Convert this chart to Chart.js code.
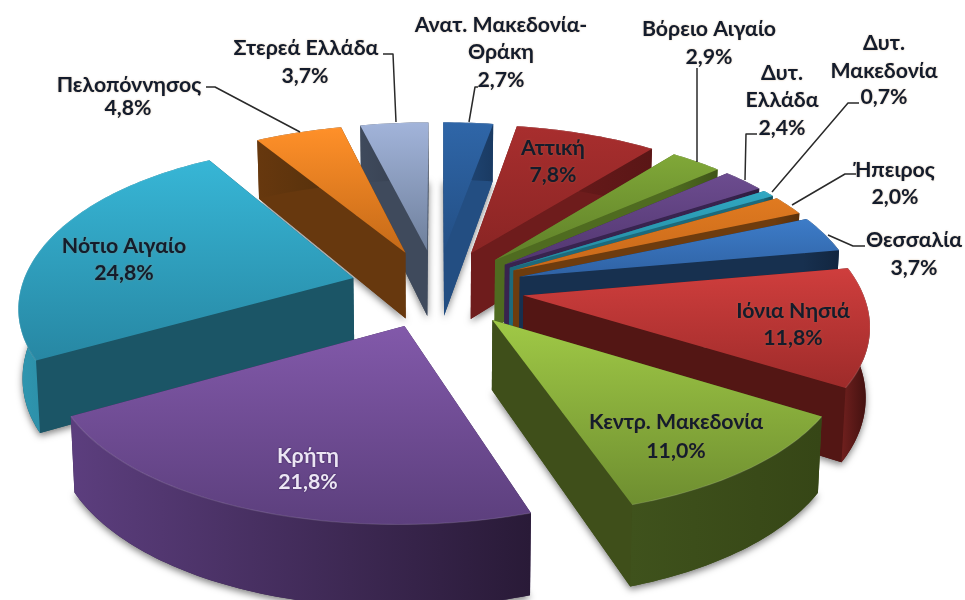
<!DOCTYPE html>
<html><head><meta charset="utf-8">
<style>html,body{margin:0;padding:0;background:#fff}canvas{display:block}</style>
<script src="https://cdn.jsdelivr.net/npm/chart.js@4"></script>
</head><body><canvas id="c" width="965" height="600"></canvas>
<script>
// Data
const categories = ["Ανατ. Μακεδονία-Θράκη","Αττική","Βόρειο Αιγαίο","Δυτ. Ελλάδα","Δυτ. Μακεδονία","Ήπειρος","Θεσσαλία","Ιόνια Νησιά","Κεντρ. Μακεδονία","Κρήτη","Νότιο Αιγαίο","Πελοπόννησος","Στερεά Ελλάδα"];
const values = [2.7,7.8,2.9,2.4,0.7,2.0,3.7,11.8,11.0,21.8,24.8,4.8,3.7];
const valueLabels = ["2,7%","7,8%","2,9%","2,4%","0,7%","2,0%","3,7%","11,8%","11,0%","21,8%","24,8%","4,8%","3,7%"];
// Styles: top gradient (2), radial wall, outer wall gradient (2)
const topColors = [["#2f66a8","#234f85"],["#a82e2e","#8a2524"],["#80a838","#5f8029"],["#6c4c8f","#523670"],["#31a8c2","#22889f"],["#e07a20","#c8691a"],["#3d7cc8","#2f62a4"],["#cf3e3d","#9e2b2a"],["#a0c946","#6e8e30"],["#8259aa","#5c3f7d"],["#37b6d6","#2787a3"],["#ff9029","#c56a18"],["#a2b4da","#6f809c"]];
const wallColors = ["#234e82","#6e1c1c","#4f6b20","#38244f","#1d6a7c","#6e3c0e","#17304f","#531614","#3f4f1a","#3a2650","#1b5566","#67380e","#3f4a5c"];
const outerColors = [["#234e82","#1a3a62"],["#6e1c1c","#5a1616"],["#4f6b20","#3f5518"],["#38244f","#2c1c3e"],["#1d6a7c","#155462"],["#6e3c0e","#5a300a"],["#17304f","#122640"],["#70201e","#3c0f0e"],["#3f521c","#364616"],["#5c3e7e","#291a37"],["#2f96b0","#1b6577"],["#67380e","#54300c"],["#3f4a5c","#333c4c"]];
// Label layout: line texts with centres
const labelLines = [
 [["Ανατ. Μακεδονία-",501,25],["Θράκη",501,52],["2,7%",501,80]],
 [["Αττική",553,148],["7,8%",553,175]],
 [["Βόρειο Αιγαίο",709,29],["2,9%",709,57]],
 [["Δυτ.",782,73],["Ελλάδα",782,100],["2,4%",782,128]],
 [["Δυτ.",884,43],["Μακεδονία",884,71],["0,7%",884,97]],
 [["Ήπειρος",895,170],["2,0%",895,197]],
 [["Θεσσαλία",914,240],["3,7%",914,268]],
 [["Ιόνια Νησιά",793,311],["11,8%",793,338]],
 [["Κεντρ. Μακεδονία",676,422],["11,0%",676,451]],
 [["Κρήτη",308,456],["21,8%",308,482]],
 [["Νότιο Αιγαίο",124,246],["24,8%",124,273]],
 [["Πελοπόννησος",129,85],["4,8%",128,108]],
 [["Στερεά Ελλάδα",306,48],["3,7%",305,76]]
];
const leaders = [
 [[469,122],[475,87],[478,87]],
 [[697,162],[697,68]],
 [[745,180],[746,134],[757,134]],
 [[772,192],[848,103],[859,103]],
 [[792,205],[845,174],[856,174]],
 [[828,235],[853,246],[865,246]],
 [[300,132],[215,87],[206,87]],
 [[396,122],[393,54],[383,54]]
];
const EXPLODE=0.25, PX=437, PY=288, AX=350, BY=157, KP=0.147, DEPTH=68, SQUEEZE_R=0.018, SQUEEZE_L=0.027;
function proj(X,Y,low){
  const w=1-KP*Y, fx=X-(X>0?SQUEEZE_R:SQUEEZE_L)*X*X*X;
  let x=PX+AX*fx/w, y=PY+BY*Y/w;
  if(low){ y+=DEPTH/w; x=PX+(x-PX)*0.99; }
  return [x,y];
}
function poly(ctx,pts){ctx.beginPath();pts.forEach((p,i)=>i?ctx.lineTo(p[0],p[1]):ctx.moveTo(p[0],p[1]));ctx.closePath();}
const pie3d={
  id:'pie3d',
  beforeDatasetsDraw(chart){
    const ctx=chart.ctx, arcs=chart.getDatasetMeta(0).data;
    const items=arcs.map((a,i)=>{
      const s=a.startAngle+Math.PI/2, e=a.endAngle+Math.PI/2, m=(s+e)/2;
      const ox=EXPLODE*Math.sin(m), oy=-EXPLODE*Math.cos(m);
      const ring=[]; const n=Math.max(6,Math.ceil((e-s)/0.02));
      for(let k=0;k<=n;k++){const t=s+(e-s)*k/n; ring.push([ox+Math.sin(t),oy-Math.cos(t)]);}
      return {i,ox,oy,ring};
    }).sort((p,q)=>p.oy-q.oy);
    items.forEach(it=>{
      const {i,ox,oy,ring}=it;
      const apexT=proj(ox,oy,false), apexB=proj(ox,oy,true);
      const topR=ring.map(p=>proj(p[0],p[1],false)), lowR=ring.map(p=>proj(p[0],p[1],true));
      const topFace=[apexT,...topR];
      const ys=topFace.map(p=>p[1]), xs=topR.concat(lowR).map(p=>p[0]);
      // soft shadow under the bottom face
      ctx.save();
      ctx.shadowColor='rgba(0,0,0,0.5)';ctx.shadowBlur=7;ctx.shadowOffsetY=3;ctx.shadowOffsetX=0;
      ctx.fillStyle=wallColors[i];poly(ctx,[apexB,...lowR]);ctx.fill();
      ctx.restore();
      // radial walls, back one first
      const walls=[[apexT,topR[0],lowR[0],apexB],[apexT,topR[topR.length-1],lowR[lowR.length-1],apexB]];
      walls.sort((a,b)=>a[1][1]-b[1][1]);
      walls.forEach(wl=>{ctx.fillStyle=wallColors[i];poly(ctx,wl);ctx.fill();});
      // outer wall
      const g=ctx.createLinearGradient(Math.min(...xs),0,Math.max(...xs),0);
      g.addColorStop(0,outerColors[i][0]);g.addColorStop(1,outerColors[i][1]);
      ctx.fillStyle=g;poly(ctx,[...topR,...lowR.slice().reverse()]);ctx.fill();
      // top face
      const tg=ctx.createLinearGradient(0,Math.min(...ys),0,Math.max(...ys));
      tg.addColorStop(0,topColors[i][0]);tg.addColorStop(1,topColors[i][1]);
      ctx.fillStyle=tg;poly(ctx,topFace);ctx.fill();
      // bevel rim
      ctx.strokeStyle='rgba(255,255,255,0.12)';ctx.lineWidth=1.2;
      ctx.beginPath();topR.forEach((p,k)=>k?ctx.lineTo(p[0],p[1]):ctx.moveTo(p[0],p[1]));ctx.stroke();
    });
  },
  beforeDatasetDraw(){return false;},
  afterDraw(chart){
    const ctx=chart.ctx;
    ctx.save();
    ctx.strokeStyle='#2a2a2a';ctx.lineWidth=1.5;ctx.lineJoin='round';
    leaders.forEach(l=>{ctx.beginPath();l.forEach((p,k)=>k?ctx.lineTo(p[0],p[1]):ctx.moveTo(p[0],p[1]));ctx.stroke();});
    ctx.textAlign='center';ctx.textBaseline='middle';
    ctx.font='bold 21.3px Lato, "Open Sans", "Noto Sans", sans-serif';
    labelLines.forEach((lines,i)=>{
      lines.forEach(([t,x,y])=>{
        const white=i===9;
        ctx.shadowColor=white?'rgba(40,20,70,.9)':'rgba(170,120,60,.45)';ctx.shadowBlur=2;ctx.shadowOffsetX=0;ctx.shadowOffsetY=0;
        ctx.fillStyle=white?'#ece6f4':'#141c2c';
        ctx.fillText(t,x,y);
      });
    });
    ctx.restore();
  }
};
new Chart(document.getElementById('c'),{
  type:'pie',
  data:{labels:categories,datasets:[{data:values,backgroundColor:topColors.map(c=>c[0]),borderWidth:0}]},
  options:{responsive:false,animation:false,plugins:{legend:{display:false},tooltip:{enabled:false}}},
  plugins:[pie3d]
});
</script></body></html>
